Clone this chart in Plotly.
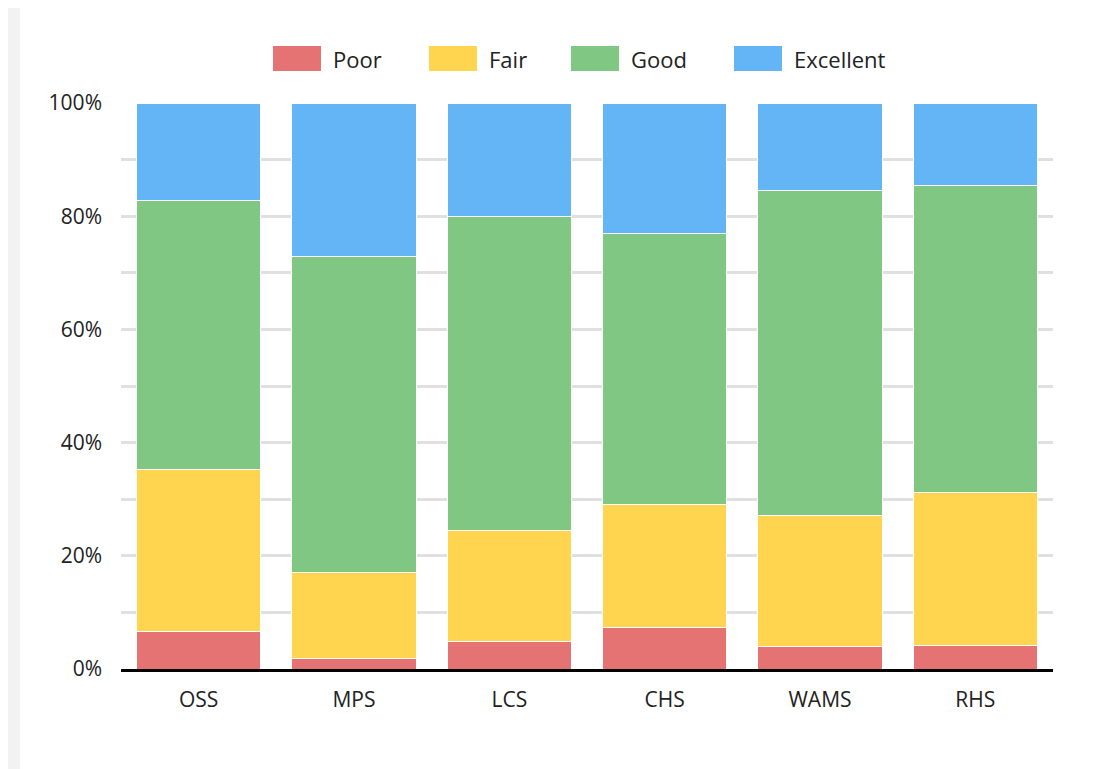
import plotly.graph_objects as go

categories = ["OSS", "MPS", "LCS", "CHS", "WAMS", "RHS"]
poor = [6.7, 1.8, 4.9, 7.4, 3.9, 4.2]
fair = [28.6, 15.2, 19.5, 21.6, 23.3, 26.9]
good = [47.4, 55.8, 55.5, 48.0, 57.3, 54.4]
excellent = [17.3, 27.2, 20.1, 23.0, 15.5, 14.5]

series = [
    ("Poor", poor, "#e57373"),
    ("Fair", fair, "#ffd54f"),
    ("Good", good, "#81c784"),
    ("Excellent", excellent, "#64b5f6"),
]

fig = go.Figure()
for name, vals, color in series:
    fig.add_trace(go.Bar(
        name=name, x=categories, y=vals, showlegend=False,
        marker=dict(color=color, line=dict(color="white", width=1)),
    ))

FONT = "Open Sans, Lato, sans-serif"
OFF = 8  # browser body margin
PAGE_W, PAGE_H = 1101, 769
W, H = PAGE_W - OFF, PAGE_H - OFF
PX0, PX1, PY0, PY1 = 121, 1053, 103, 669  # plot area in page pixels
L, R, T, B = PX0 - OFF, PAGE_W - PX1, PY0 - OFF, PAGE_H - PY1
pw, ph = PX1 - PX0, PY1 - PY0


def px(x):
    return (x - PX0) / pw


def py(y):
    return (PY1 - y) / ph


shapes = [
    dict(type="rect", xref="paper", yref="paper", layer="below",
         x0=px(0), x1=px(20), y0=py(PAGE_H + 5), y1=py(-5),
         fillcolor="#f2f2f2", line=dict(width=0)),
    dict(type="rect", xref="paper", yref="paper", layer="below",
         x0=px(0), x1=px(PAGE_W + 5), y0=py(2), y1=py(-5),
         fillcolor="#f2f2f2", line=dict(width=0)),
]
annotations = []
legend_x = [273, 429, 571, 734]
for (name, _, color), lx in zip(series, legend_x):
    shapes.append(dict(type="rect", xref="paper", yref="paper",
                       x0=px(lx), x1=px(lx + 48), y0=py(71), y1=py(46),
                       fillcolor=color, line=dict(width=0)))
    annotations.append(dict(xref="paper", yref="paper", x=px(lx + 58), y=py(59),
                            xanchor="left", yanchor="middle", showarrow=False,
                            text=name, font=dict(size=22, color="#222222", family=FONT)))

fig.update_layout(
    barmode="stack",
    bargap=0.2,
    width=W, height=H,
    margin=dict(l=L, r=R, t=T, b=B, pad=0),
    paper_bgcolor="white",
    plot_bgcolor="white",
    font=dict(family=FONT, size=21, color="#222222"),
    showlegend=False,
    xaxis=dict(showgrid=False, showline=True, linecolor="black", linewidth=3,
               ticks="", tickfont=dict(size=21), ticklabelstandoff=10),
    yaxis=dict(range=[0, 100], tickvals=[0, 20, 40, 60, 80, 100],
               ticktext=["0%", "20%", "40%", "60%", "80%", "100%"],
               showgrid=True, gridcolor="#e0e0e0", gridwidth=2.5,
               minor=dict(tickvals=[10, 30, 50, 70, 90], showgrid=True,
                          gridcolor="#e0e0e0", gridwidth=2.5),
               zeroline=False, ticks="", tickfont=dict(size=21), ticklabelstandoff=18),
    shapes=shapes,
    annotations=annotations,
)

fig.write_html("out.html")
